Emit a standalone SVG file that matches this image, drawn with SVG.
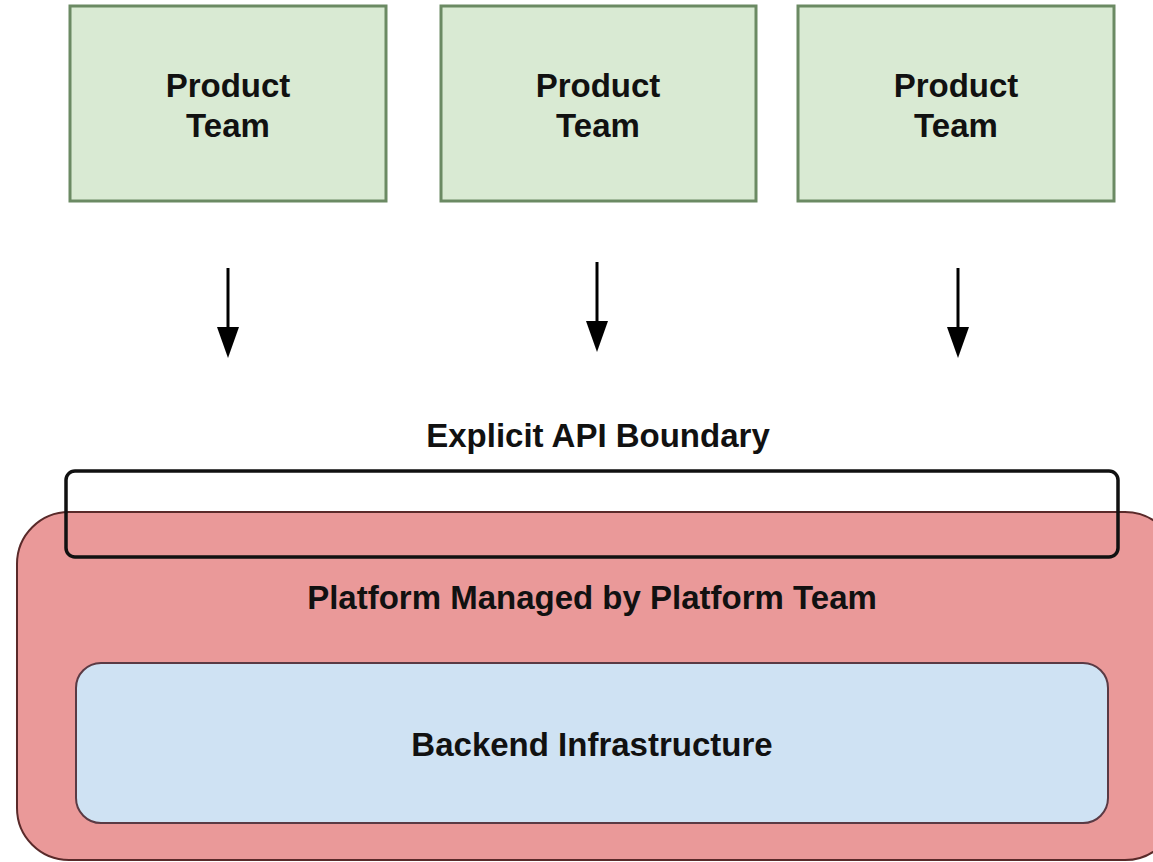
<svg xmlns="http://www.w3.org/2000/svg" width="1153" height="862" viewBox="0 0 1153 862">
<style>
.team{fill:#d9ead3;stroke:#6b8a63;stroke-width:3}
.t{font-family:"Liberation Sans",Arial,sans-serif;font-weight:bold;font-size:33px;fill:#111;text-anchor:middle}
.conn{stroke:#000;stroke-width:3;fill:none}
.head{fill:#000}
</style>
<rect width="1153" height="862" fill="#fff"/>
<g id="team1"><rect class="team" x="70" y="6" width="316" height="195"/><text class="t" x="228" y="97">Product</text><text class="t" x="228" y="137">Team</text></g>
<g id="team2"><rect class="team" x="441" y="6" width="315" height="195"/><text class="t" x="598" y="97">Product</text><text class="t" x="598" y="137">Team</text></g>
<g id="team3"><rect class="team" x="798" y="6" width="316" height="195"/><text class="t" x="956" y="97">Product</text><text class="t" x="956" y="137">Team</text></g>
<g id="connectors">
<line class="conn" x1="228" y1="268" x2="228" y2="330"/><polygon class="head" points="217,327 239,327 228,358"/>
<line class="conn" x1="597" y1="262" x2="597" y2="324"/><polygon class="head" points="586,321 608,321 597,352"/>
<line class="conn" x1="958" y1="268" x2="958" y2="330"/><polygon class="head" points="947,327 969,327 958,358"/>
</g>
<g id="api-label"><text class="t" x="598" y="447">Explicit API Boundary</text></g>
<g id="platform"><rect x="17" y="512" width="1160" height="348" rx="52" fill="#ea9999" stroke="#5a2a2a" stroke-width="2"/><text class="t" x="592" y="609">Platform Managed by Platform Team</text></g>
<g id="api-boundary"><rect x="66" y="471" width="1052" height="86" rx="9" fill="none" stroke="#111" stroke-width="3.5"/></g>
<g id="backend"><rect x="76" y="663" width="1032" height="160" rx="25" fill="#cfe2f3" stroke="#5a3a44" stroke-width="2"/><text class="t" x="592" y="756">Backend Infrastructure</text></g>
</svg>
